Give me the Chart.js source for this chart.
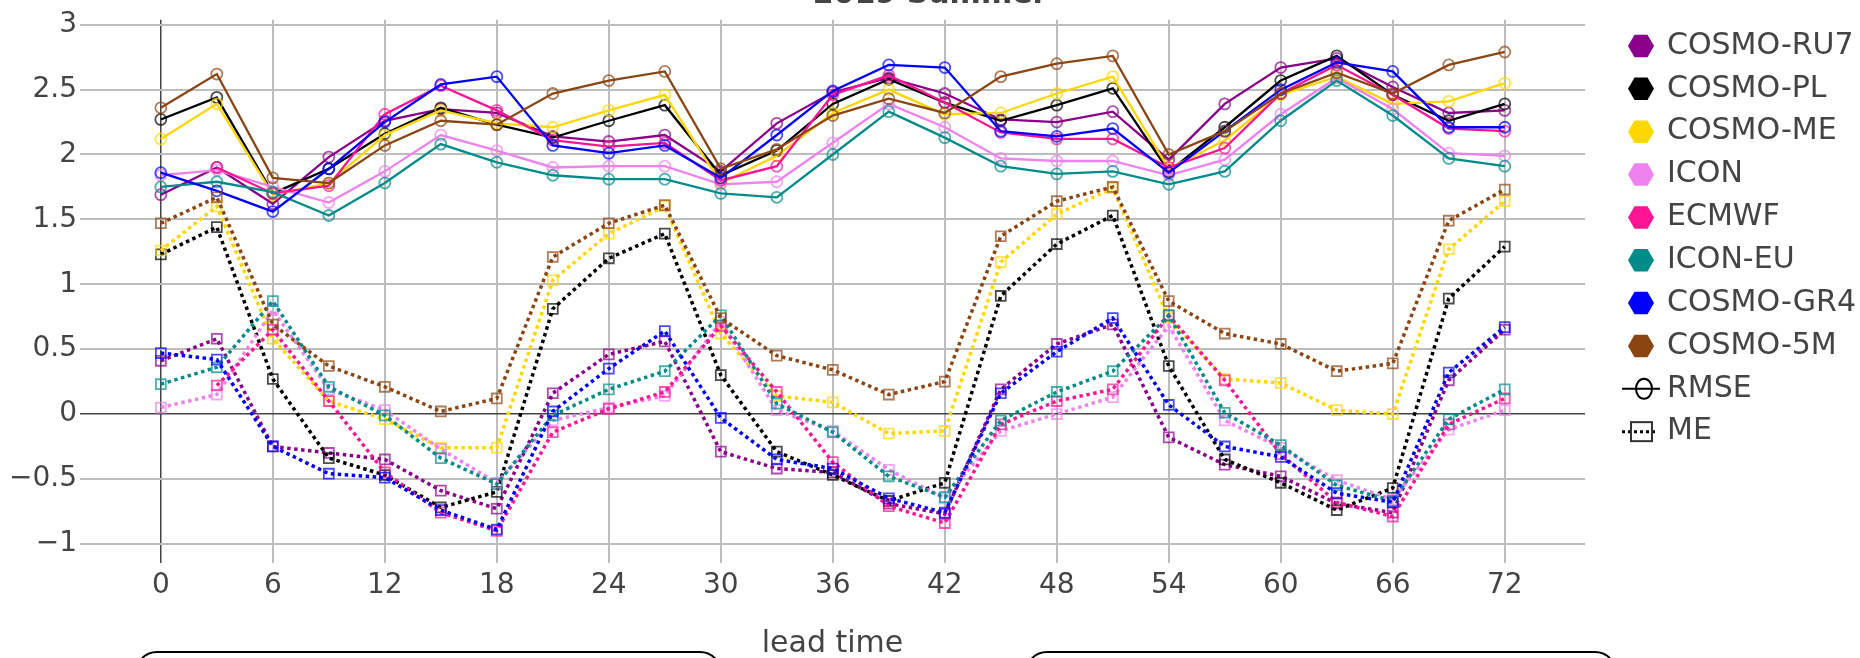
<!DOCTYPE html>
<html>
<head>
<meta charset="utf-8">
<script src="https://cdn.jsdelivr.net/npm/chart.js@4.4.1/dist/chart.umd.min.js"></script>
<style>
    body { margin: 0; background: #fff; overflow: hidden; }
    #wrap { position: relative; width: 1860px; height: 658px; }
    .selbox { position: absolute; top: 651px; height: 40px; border: 2px solid #000; border-radius: 22px; background: #fff; }
</style>
</head>
<body>
<div id="wrap">
    <canvas id="errchart" width="1860" height="658"></canvas>
    <div class="selbox" style="left:135px;width:583px"></div>
    <div class="selbox" style="left:1025px;width:588px"></div>
</div>
<script>
var leadTimes = [0, 3, 6, 9, 12, 15, 18, 21, 24, 27, 30, 33, 36, 39, 42, 45, 48, 51, 54, 57, 60, 63, 66, 69, 72];
var xTicks = [0, 6, 12, 18, 24, 30, 36, 42, 48, 54, 60, 66, 72];
var yTicks = [-1, -0.5, 0, 0.5, 1, 1.5, 2, 2.5, 3];

var models = ['COSMO-RU7', 'COSMO-PL', 'COSMO-ME', 'ICON', 'ECMWF', 'ICON-EU', 'COSMO-GR4', 'COSMO-5M'];
var colors = ['#8B008B', '#000000', '#FFD700', '#EE82EE', '#FF1493', '#008B8B', '#0000FF', '#8B4513'];

// RMSE
var rmseRU7 = [1.69, 1.90, 1.62, 1.98, 2.26, 2.35, 2.32, 2.14, 2.10, 2.15, 1.87, 2.24, 2.48, 2.59, 2.47, 2.27, 2.25, 2.33, 1.96, 2.39, 2.67, 2.74, 2.52, 2.32, 2.34];
var rmsePL = [2.27, 2.44, 1.70, 1.89, 2.16, 2.36, 2.23, 2.13, 2.26, 2.38, 1.84, 2.03, 2.39, 2.58, 2.40, 2.26, 2.38, 2.51, 1.87, 2.21, 2.57, 2.76, 2.46, 2.26, 2.39];
var rmseME = [2.12, 2.39, 1.69, 1.78, 2.15, 2.34, 2.24, 2.21, 2.34, 2.46, 1.78, 1.99, 2.32, 2.50, 2.31, 2.32, 2.47, 2.60, 1.89, 2.11, 2.46, 2.60, 2.39, 2.41, 2.55];
var rmseICON = [1.84, 1.88, 1.75, 1.63, 1.87, 2.15, 2.03, 1.90, 1.91, 1.91, 1.77, 1.79, 2.09, 2.39, 2.21, 1.97, 1.95, 1.95, 1.84, 1.96, 2.31, 2.59, 2.35, 2.01, 1.99];
var rmseECMWF = [null, 1.90, 1.70, 1.76, 2.31, 2.53, 2.34, 2.11, 2.06, 2.09, 1.80, 1.91, 2.46, 2.61, 2.40, 2.17, 2.12, 2.12, 1.90, 2.05, 2.47, 2.69, 2.46, 2.20, 2.18];
var rmseEU = [1.75, 1.79, 1.71, 1.53, 1.78, 2.08, 1.94, 1.84, 1.81, 1.81, 1.70, 1.67, 2.00, 2.33, 2.13, 1.91, 1.85, 1.87, 1.77, 1.87, 2.26, 2.57, 2.30, 1.97, 1.91];
var rmseGR4 = [1.86, 1.72, 1.56, 1.89, 2.25, 2.54, 2.60, 2.07, 2.01, 2.07, 1.82, 2.15, 2.49, 2.69, 2.67, 2.18, 2.14, 2.20, 1.86, 2.18, 2.50, 2.71, 2.64, 2.21, 2.21];
var rmse5M = [2.36, 2.62, 1.82, 1.78, 2.07, 2.26, 2.23, 2.47, 2.57, 2.64, 1.89, 2.04, 2.30, 2.43, 2.32, 2.60, 2.70, 2.76, 2.00, 2.18, 2.47, 2.63, 2.47, 2.69, 2.79];

// ME (bias)
var meRU7 = [0.41, 0.58, -0.25, -0.30, -0.35, -0.59, -0.73, 0.16, 0.46, 0.56, -0.29, -0.42, -0.45, -0.69, -0.77, 0.19, 0.54, 0.69, -0.18, -0.39, -0.48, -0.69, -0.76, 0.26, 0.65];
var mePL = [1.23, 1.44, 0.27, -0.34, -0.47, -0.72, -0.60, 0.81, 1.20, 1.39, 0.30, -0.29, -0.47, -0.67, -0.53, 0.91, 1.31, 1.53, 0.37, -0.35, -0.53, -0.74, -0.57, 0.89, 1.29];
var meME = [1.26, 1.60, 0.58, 0.10, -0.04, -0.26, -0.26, 1.03, 1.39, 1.60, 0.62, 0.14, 0.09, -0.15, -0.13, 1.17, 1.54, 1.74, 0.74, 0.27, 0.24, 0.03, 0.00, 1.27, 1.64];
var meICON = [0.05, 0.15, 0.80, 0.19, 0.03, -0.27, -0.53, -0.05, 0.05, 0.14, 0.71, 0.03, -0.13, -0.43, -0.65, -0.13, 0.00, 0.13, 0.68, -0.05, -0.26, -0.51, -0.66, -0.12, 0.03];
var meECMWF = [null, 0.22, 0.65, 0.10, -0.45, -0.76, -0.90, -0.14, 0.04, 0.17, 0.68, 0.17, -0.37, -0.71, -0.84, -0.08, 0.10, 0.19, 0.76, 0.26, -0.31, -0.68, -0.79, -0.08, 0.12];
var meEU = [0.23, 0.36, 0.87, 0.21, -0.01, -0.34, -0.54, -0.01, 0.19, 0.33, 0.76, 0.08, -0.14, -0.48, -0.64, -0.05, 0.17, 0.33, 0.76, 0.01, -0.24, -0.55, -0.67, -0.04, 0.19];
var meGR4 = [0.47, 0.42, -0.25, -0.46, -0.49, -0.74, -0.89, 0.02, 0.35, 0.64, -0.03, -0.35, -0.42, -0.65, -0.76, 0.16, 0.48, 0.74, 0.07, -0.25, -0.33, -0.61, -0.68, 0.32, 0.67];
var me5M = [1.47, 1.67, 0.69, 0.37, 0.21, 0.02, 0.12, 1.21, 1.47, 1.61, 0.74, 0.45, 0.34, 0.15, 0.25, 1.37, 1.64, 1.75, 0.87, 0.62, 0.54, 0.33, 0.39, 1.49, 1.73];

var rmseAll = [rmseRU7, rmsePL, rmseME, rmseICON, rmseECMWF, rmseEU, rmseGR4, rmse5M];
var meAll = [meRU7, mePL, meME, meICON, meECMWF, meEU, meGR4, me5M];

Chart.defaults.font.family = '"DejaVu Sans", Verdana, sans-serif';
Chart.defaults.color = '#444';

function fade(hex, a) {
    var n = parseInt(hex.slice(1), 16);
    return 'rgba(' + (n >> 16) + ',' + ((n >> 8) & 255) + ',' + (n & 255) + ',' + a + ')';
}

function points(vals) {
    return leadTimes.map(function (t, i) { return { x: t, y: vals[i] }; });
}

var datasets = [];
models.forEach(function (name, i) {
    datasets.push({
        label: name + ' RMSE',
        data: points(rmseAll[i]),
        borderColor: colors[i],
        borderWidth: 2.3,
        pointStyle: 'circle',
        pointRadius: 5.5,
        pointBorderWidth: 1.8,
        pointBorderColor: fade(colors[i], 0.7),
        pointBackgroundColor: 'rgba(0,0,0,0)',
        order: -i
    });
    datasets.push({
        label: name + ' ME',
        data: points(meAll[i]),
        borderColor: colors[i],
        borderWidth: 3.5,
        borderDash: [3.5, 3.5],
        pointStyle: 'rect',
        pointRadius: 7,
        pointBorderWidth: 1.8,
        pointBorderColor: fade(colors[i], 0.7),
        pointBackgroundColor: 'rgba(0,0,0,0)',
        order: -i
    });
});

const topTitle = {
    id: 'topTitle',
    afterDraw(chart) {
        const c = chart.ctx;
        c.save();
        c.font = 'bold 30px "DejaVu Sans"';
        c.fillStyle = '#444';
        c.textAlign = 'center';
        c.textBaseline = 'alphabetic';
        c.fillText('2019 Summer', 930, 3);
        c.restore();
    }
};

const sideLegend = {
    id: 'sideLegend',
    afterDraw(chart) {
        const c = chart.ctx;
        c.save();
        c.font = '30px "DejaVu Sans"';
        c.textBaseline = 'middle';
        var step = 42.85;
        models.forEach(function (name, i) {
            var y = 46 + i * step;
            c.beginPath();
            for (var k = 0; k < 6; k++) {
                var a = k * Math.PI / 3;
                var px = 1641 + 13 * Math.cos(a), py = y + 13 * Math.sin(a);
                if (k === 0) c.moveTo(px, py); else c.lineTo(px, py);
            }
            c.closePath();
            c.fillStyle = colors[i];
            c.fill();
            c.fillStyle = '#444';
            c.fillText(name, 1667, y);
        });
        // RMSE entry
        var y1 = 46 + 8 * step;
        c.strokeStyle = '#000';
        c.lineWidth = 2;
        c.beginPath();
        c.moveTo(1622, y1);
        c.lineTo(1660, y1);
        c.stroke();
        c.beginPath();
        c.ellipse(1644, y1, 8, 10, 0, 0, Math.PI * 2);
        c.stroke();
        c.fillStyle = '#444';
        c.fillText('RMSE', 1667, y1);
        // ME entry
        var y2 = 46 + 9 * step;
        c.setLineDash([3, 3]);
        c.lineWidth = 3;
        c.beginPath();
        c.moveTo(1622, y2);
        c.lineTo(1658, y2);
        c.stroke();
        c.setLineDash([]);
        c.lineWidth = 2;
        c.strokeStyle = '#333';
        c.strokeRect(1631, y2 - 9.5, 21, 19);
        c.fillText('ME', 1667, y2);
        c.restore();
    }
};

var ctx = document.getElementById('errchart');
var errChart = new Chart(ctx, {
    type: 'line',
    data: { datasets: datasets },
    options: {
        responsive: false,
        animation: false,
        devicePixelRatio: 1,
        layout: { padding: { left: 0, top: 18, right: 275, bottom: 0 } },
        elements: { line: { tension: 0 } },
        plugins: {
            legend: { display: false },
            tooltip: { enabled: false }
        },
        scales: {
            x: {
                type: 'linear',
                min: -4.33,
                max: 76.3,
                afterBuildTicks: function (s) { s.ticks = xTicks.map(function (v) { return { value: v }; }); },
                afterFit: function (s) { s.height = 95; },
                border: { display: false },
                grid: {
                    drawTicks: false,
                    color: function (c) { return c.tick && c.tick.value === 0 ? '#444' : '#bdbdbd'; },
                    lineWidth: function (c) { return c.tick && c.tick.value === 0 ? 1.5 : 2; }
                },
                ticks: { font: { size: 28 }, padding: 5.5, maxRotation: 0, autoSkip: false },
                title: { display: true, text: 'lead time', font: { size: 30, lineHeight: 0.89 }, padding: 0 }
            },
            y: {
                min: -1.148,
                max: 3.038,
                afterBuildTicks: function (s) { s.ticks = yTicks.map(function (v) { return { value: v }; }); },
                afterFit: function (s) { s.width = 80; },
                border: { display: false },
                grid: {
                    drawTicks: false,
                    color: function (c) { return c.tick && c.tick.value === 0 ? '#444' : '#bdbdbd'; },
                    lineWidth: function (c) { return c.tick && c.tick.value === 0 ? 1.5 : 2; }
                },
                ticks: {
                    font: { size: 28 },
                    padding: 3,
                    callback: function (v) { return String(v).replace('-', '\u2212'); }
                }
            }
        }
    },
    plugins: [topTitle, sideLegend]
});
</script>
</body>
</html>
